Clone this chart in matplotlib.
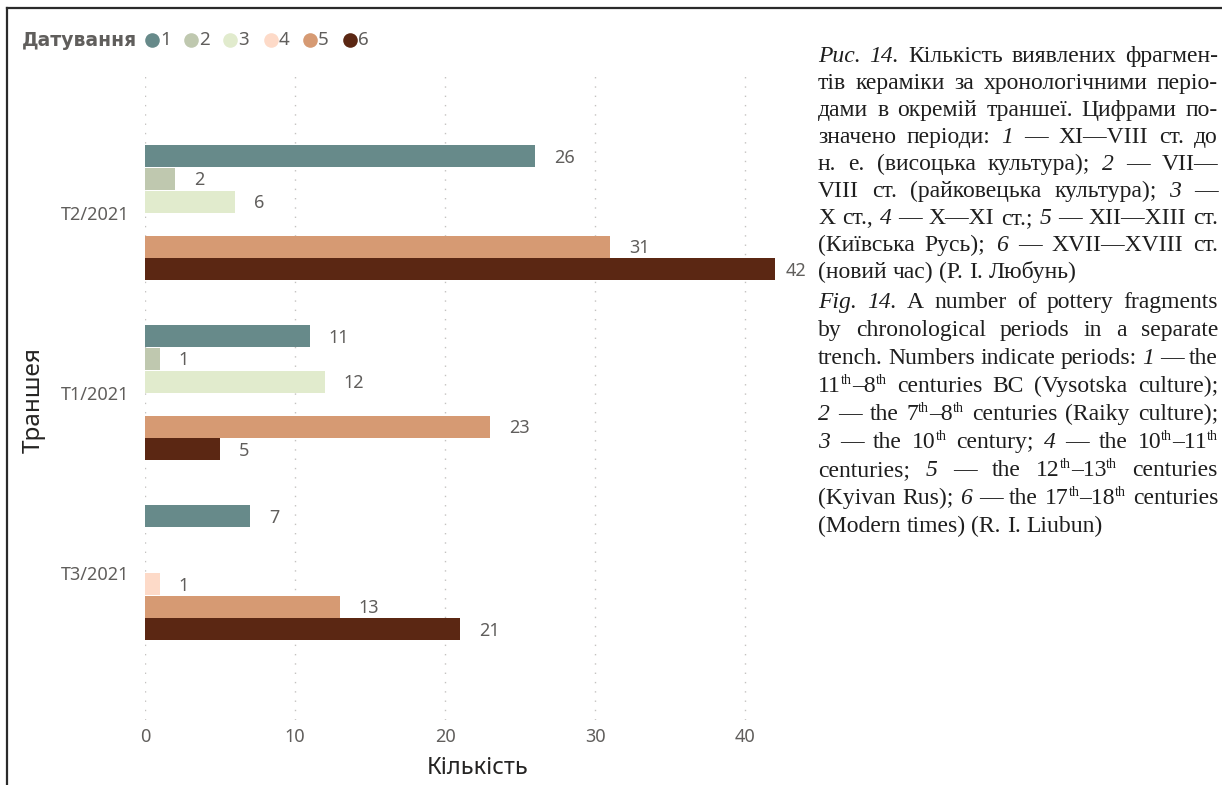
import re
import matplotlib
matplotlib.use('Agg')
import matplotlib.pyplot as plt
from matplotlib.lines import Line2D

# ---------------- data ----------------
trenches = ['T2/2021', 'T1/2021', 'T3/2021']
periods = ['1', '2', '3', '4', '5', '6']
period1 = [26, 11, 7]
period2 = [2, 1, None]
period3 = [6, 12, None]
period4 = [None, None, 1]
period5 = [31, 23, 13]
period6 = [42, 5, 21]
series = [period1, period2, period3, period4, period5, period6]
colors = ['#678A8A', '#BFC8AF', '#E1EBCD', '#FDDAC8', '#D69A73', '#5B2713']
xticks = [0, 10, 20, 30, 40]

legend_title = 'Датування'
x_title = 'Кількість'
y_title = 'Траншея'

caption_ua = [
    "_Рис. 14._ Кількість виявлених фрагмен-",
    "тів кераміки за хронологічними періо-",
    "дами в окремій траншеї. Цифрами по-",
    "значено періоди: _1_ — XI—VIII ст. до",
    "н. е. (висоцька культура); _2_ — VII—",
    "VIII ст. (райковецька культура); _3_ —",
    "X ст., _4_ — X—XI ст.; _5_ — XII—XIII ст.",
    "(Київська Русь); _6_ — XVII—XVIII ст.",
    "(новий час) (Р. І. Любунь)",
]
caption_en = [
    "_Fig. 14._ A number of pottery fragments",
    "by chronological periods in a separate",
    "trench. Numbers indicate periods: _1_ — the",
    "11^th^–8^th^ centuries BC (Vysotska culture);",
    "_2_ — the 7^th^–8^th^ centuries (Raiky culture);",
    "_3_ — the 10^th^ century; _4_ — the 10^th^–11^th^",
    "centuries; _5_ — the 12^th^–13^th^ centuries",
    "(Kyivan Rus); _6_ — the 17^th^–18^th^ centuries",
    "(Modern times) (R. I. Liubun)",
]

# ---------------- figure ----------------
plt.rcParams['font.family'] = ['Noto Sans', 'DejaVu Sans']
W, H = 1222, 785
fig = plt.figure(figsize=(W / 100, H / 100), dpi=100)
fig.patch.set_facecolor('white')


def fx(px):
    return px / W


def fy(py):
    return 1 - py / H


ax_top, ax_bot, ax_left, ax_right = 72, 720, 145, 805
ax = fig.add_axes([fx(ax_left), fy(ax_bot), (ax_right - ax_left) / W, (ax_bot - ax_top) / H])

slot = 0.1256
grey = '#605E5C'
for k, (vals, col) in enumerate(zip(series, colors)):
    for i, v in enumerate(vals):
        if v is None:
            continue
        y = i + (k - 2.5) * slot
        ax.barh(y, v, height=slot * 0.97, color=col, edgecolor='none')
        off = 13.5 if v < 40 else 7.5
        ax.annotate(str(v), xy=(v, y), xytext=(off, -1), textcoords='offset points',
                    ha='left', va='center', fontsize=13, color=grey, annotation_clip=False)

ax.set_xlim(0, 44)
ax.set_ylim(2.817, -0.783)
ax.set_xticks(xticks)
ax.set_xticklabels([str(t) for t in xticks])
ax.set_yticks(range(len(trenches)))
ax.set_yticklabels(trenches)
ax.tick_params(axis='both', length=0, labelsize=13, labelcolor=grey)
ax.tick_params(axis='x', pad=6)
ax.tick_params(axis='y', pad=11)
for s in ax.spines.values():
    s.set_visible(False)
ax.grid(axis='x', linestyle=(0, (1, 5.7)), color='#C4C2C0', linewidth=1)
ax.grid(axis='y', visible=False)
ax.set_axisbelow(True)

fig.text(fx(478), fy(768), x_title, ha='center', va='center', fontsize=17, color='#252423')
fig.text(fx(34), fy(400), y_title, ha='center', va='center', rotation=90, fontsize=17.5, color='#252423')

# legend
fig.text(fx(22), fy(40), legend_title, ha='left', va='center', fontsize=13.5,
         fontweight='bold', family=['DejaVu Sans'], color=grey)
leg_x = [152, 191, 230, 271, 310, 350]
for lx, lab, col in zip(leg_x, periods, colors):
    fig.add_artist(Line2D([fx(lx)], [fy(40)], marker='o', markersize=10.5, color=col,
                          markeredgecolor='none', transform=fig.transFigure))
    fig.text(fx(lx + 8), fy(40), lab, ha='left', va='center', fontsize=13.5, color=grey)

# frame
fig.add_artist(Line2D([fx(7), fx(W)], [fy(8), fy(8)], color='#2b2b2b', lw=1.6,
                      transform=fig.transFigure))
fig.add_artist(Line2D([fx(7), fx(7)], [fy(8), fy(784)], color='#2b2b2b', lw=1.6,
                      transform=fig.transFigure))

# ---------------- caption ----------------
FS = 17.0
FS_PX = FS * 100 / 72
SERIF = ['Liberation Serif', 'DejaVu Serif']
TXT = '#1e1e1e'


def parse(line):
    segs = []
    for m in re.finditer(r'_([^_]*)_|\^([^^]*)\^|([^_^]+)', line):
        if m.group(1) is not None:
            segs.append((m.group(1), 'i'))
        elif m.group(2) is not None:
            segs.append((m.group(2), 's'))
        else:
            segs.append((m.group(3), 'n'))
    words = [[]]
    for txt, st in segs:
        parts = txt.split(' ')
        for j, p in enumerate(parts):
            if j > 0:
                words.append([])
            if p:
                words[-1].append((p, st))
    return [w for w in words if w]


renderer = fig.canvas.get_renderer()


def make(piece, st):
    kw = dict(family=SERIF, fontsize=FS, color=TXT)
    if st == 'i':
        kw['style'] = 'italic'
    if st == 's':
        kw['fontsize'] = FS * 0.6
    return fig.text(0, 0, piece, ha='left', va='baseline', **kw)


def paragraph(lines, base0, dy, x0=818, x1=1218):
    for li, line in enumerate(lines):
        words = parse(line)
        objs = []
        widths = []
        for w in words:
            wo = []
            ww = 0
            for piece, st in w:
                t = make(piece, st)
                pw = t.get_window_extent(renderer).width
                wo.append((t, st, pw))
                ww += pw
            objs.append(wo)
            widths.append(ww)
        last = li == len(lines) - 1
        if last or len(words) < 2:
            gap = 0.25 * FS_PX
        else:
            gap = (x1 - x0 - sum(widths)) / (len(words) - 1)
        x = x0
        base = base0 + li * dy
        for wo, ww in zip(objs, widths):
            xx = x
            for t, st, pw in wo:
                yb = base - (0.36 * FS_PX if st == 's' else 0)
                t.set_position((fx(xx), fy(yb)))
                xx += pw
            x += ww + gap


paragraph(caption_ua, 62, 27)
paragraph(caption_en, 308, 28)

fig.savefig('out.png', dpi=100, facecolor='white')
